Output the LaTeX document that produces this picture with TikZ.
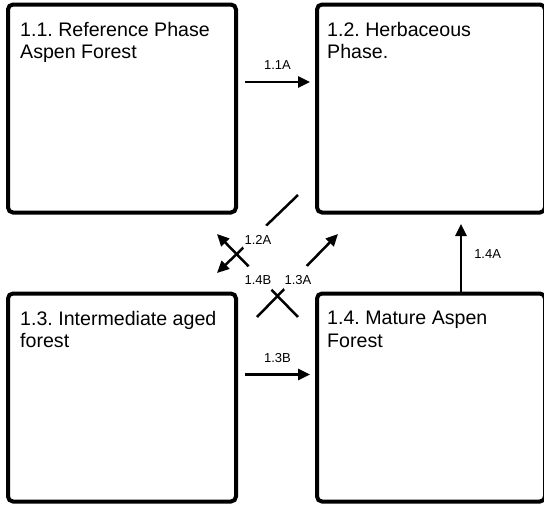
\documentclass[tikz,border=0pt]{standalone}
\usepackage{fontspec}
\setmainfont{Liberation Sans}
\usetikzlibrary{arrows.meta,positioning,calc}
\frenchspacing
\tikzset{
  phase/.style={draw, line width=4pt, rounded corners=5pt, inner sep=0pt,
                minimum width=228pt, minimum height=208pt},
  title/.style={anchor=north west, align=left, inner sep=0pt,
                font=\fontsize{19.6}{22.5}\selectfont},
  tag/.style={inner sep=0pt, font=\fontsize{13}{15}\selectfont},
  gap/.style={tag, circle, fill=white, minimum size=33pt},
  link/.style={-{Triangle[length=12pt,width=11pt]}, line width=2.5pt}
}

\begin{document}
\begin{tikzpicture}[x=1pt,y=-1pt]
  \useasboundingbox (0,0) rectangle (544,506);

  \node[phase] (p11) at (122,108.5) {};
  \node[phase] (p12) at (431,108.5) {};
  \node[phase] (p13) at (122,397.5) {};
  \node[phase] (p14) at (431,397.5) {};

  \node[title] (t11) at ([shift={(14,19.5)}]p11.north west) {1.1. Reference Phase\\Aspen Forest};
  \node[title] (t12) at ([shift={(12,19.5)}]p12.north west) {1.2. Herbaceous\\Phase.};
  \node[title] (t13) at ([shift={(14,19.5)}]p13.north west) {1.3. Intermediate aged\\forest};
  \node[title] (t14) at ([shift={(12,19.5)}]p14.north west) {1.4. Mature Aspen\\Forest};

  \draw[link] ([shift={(7,-26.5)}]p11.east) -- node[tag, above=11pt] (l11a) {1.1A} ([shift={(-5,-26.5)}]p12.west);
  \draw[link] ([shift={(7,-23)}]p13.east) -- node[tag, above=11pt] (l13b) {1.3B} ([shift={(-5,-23)}]p14.west);
  \draw[link] ([xshift=30pt]p14.north) -- node[tag, right=12pt, yshift=4pt] (l14a) {1.4A} ([shift={(30,9.5)}]p12.south);

  \draw[link] ([shift={(-17,-19.5)}]p12.south west) -- ([shift={(-21,-18.5)}]p13.north east);
  \draw[link] ([shift={(-17,25.5)}]p14.north west) -- ([shift={(-21,19.5)}]p11.south east);
  \draw[link] ([shift={(19,25.5)}]p13.north east) -- ([shift={(23,19.5)}]p12.south west);

  \node[gap] (l12a) at (258,240) {1.2A};
  \node[gap] (l14b) at (258,280) {1.4B};
  \node[gap] (l13a) at (298,280) {1.3A};
\end{tikzpicture}
\end{document}
